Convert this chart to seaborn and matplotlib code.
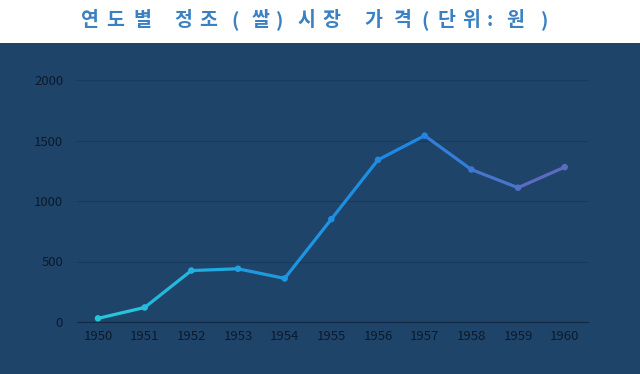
import numpy as np
import pandas as pd
import matplotlib
matplotlib.use('Agg')
import matplotlib.pyplot as plt
import matplotlib.colors as mcolors
from matplotlib.patches import Rectangle
import seaborn as sns

# 데이터
years = [1950, 1951, 1952, 1953, 1954, 1955, 1956, 1957, 1958, 1959, 1960]
prices = [30, 120, 425, 440, 360, 850, 1340, 1540, 1260, 1110, 1280]
title_chars = ['연', '도', '별', '정', '조', '(', '쌀', ')', '시', '장',
               '가', '격', '(', '단', '위', ':', '원', ')']
# 자간이 넓은 제목: 글자별 가로 위치(px)
title_x = [90, 115.5, 142.5, 183.5, 208.5, 235.5, 260, 279.5, 306.5, 331.5,
           373.5, 401.5, 425.5, 446.5, 471.5, 490, 515, 545]

bg = '#1f4469'
sns.set_style('white')
plt.rcParams['font.family'] = ['Noto Sans CJK KR', 'DejaVu Sans']

df = pd.DataFrame({'year': years, 'price': prices})

fig = plt.figure(figsize=(6.4, 3.74), dpi=100, facecolor=bg)
fig.patches.append(Rectangle((0, 1 - 43 / 374), 1, 43 / 374, transform=fig.transFigure,
                             facecolor='white', edgecolor='none', zorder=0))
ax = fig.add_axes([77 / 640, 1 - 322 / 374, (588 - 77) / 640, (322 - 80) / 374])
ax.set_facecolor(bg)

# 색 그라데이션 (청록 -> 파랑 -> 보라)
cmap = mcolors.LinearSegmentedColormap.from_list('g', ['#26c6da', '#1e9be0', '#1e88e5', '#5c6bc0'])
n = len(df)
for i in range(n - 1):
    seg = df.iloc[i:i + 2]
    sns.lineplot(data=seg, x='year', y='price', ax=ax, color=cmap(i / (n - 2)), linewidth=2.3)
for i in range(n):
    sns.scatterplot(data=df.iloc[i:i + 1], x='year', y='price', ax=ax,
                    color=cmap(max(i - 0.5, 0) / (n - 2)), s=22, edgecolor='none', zorder=3)

ax.set_ylim(0, 2000)
ax.set_xlim(1949.55, 1960.5)
ax.set_yticks([0, 500, 1000, 1500, 2000])
ax.set_xticks(years)
ax.grid(axis='y', color='#173a5c', linewidth=0.8)
ax.set_axisbelow(True)
for s in ['top', 'right', 'left']:
    ax.spines[s].set_visible(False)
ax.spines['bottom'].set_color('#112a44')
ax.tick_params(axis='both', length=0, labelsize=9.5, colors='#0b1a2c', pad=6)
ax.tick_params(axis='y', pad=10)
ax.set_xlabel('')
ax.set_ylabel('')

for ch, x in zip(title_chars, title_x):
    fig.text(x / 640, 1 - 21 / 374, ch, ha='center', va='center', fontsize=14,
             fontweight='bold', color='#3a80c2')

fig.savefig('out.png', dpi=100, facecolor=bg)
